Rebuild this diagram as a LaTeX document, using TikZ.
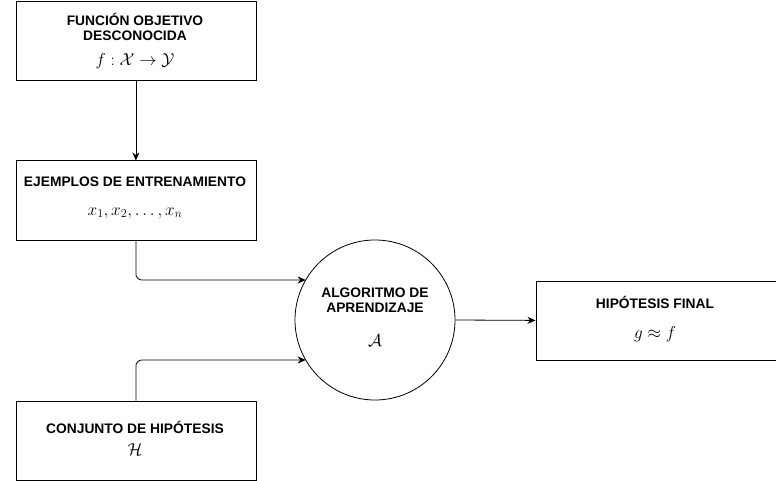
\documentclass[tikz,border=0pt]{standalone}
\usepackage{fontspec}
\setmainfont{Liberation Sans}
\usetikzlibrary{arrows.meta,calc}
\begin{document}
\begin{tikzpicture}[x=1pt,y=-1pt,
  box/.style={draw,line width=0.8pt,minimum width=240pt,minimum height=79pt,anchor=north west,inner sep=0pt},
  title/.style={font=\bfseries\fontsize{13.8}{15.5}\selectfont,align=center,inner sep=0pt},
  mth/.style={font=\fontsize{18}{20}\selectfont,inner sep=0pt},
  conn/.style={line width=0.8pt,-{Stealth[length=8pt,width=7pt]},rounded corners=6pt}]
\useasboundingbox (0,0) rectangle (776,481);
\node[box] (f) at (15.5,1) {};
\node[box] (e) at (15.5,160.5) {};
\node[box] (h) at (15.5,400.5) {};
\node[box] (g) at (535.5,280.5) {};
\node[draw,line width=0.8pt,circle,minimum size=160pt,inner sep=0pt] (a) at (375,320) {};
% texts
\node[title] (ft) at (135,27) {FUNCIÓN OBJETIVO\\DESCONOCIDA};
\node[mth] (fm) at (135,61) {$f:\mathcal{X}\to\mathcal{Y}$};
\node[title] (et) at (135,182) {EJEMPLOS DE ENTRENAMIENTO};
\node[mth] (em) at (135,213) {$x_1,x_2,\ldots,x_n$};
\node[title] (ht) at (135,427) {CONJUNTO DE HIPÓTESIS};
\node[mth] (hm) at (135,450) {$\mathcal{H}$};
\node[title] (at) at (375,300) {ALGORITMO DE\\APRENDIZAJE};
\node[mth] (am) at (375,341) {$\mathcal{A}$};
\node[title] (gt) at (655,302) {HIPÓTESIS FINAL};
\node[mth] (gm) at (655,334) {$g\approx f$};
% connectors
\coordinate (a1) at ($(a)+(-69.3,-40)$);
\coordinate (a2) at ($(a)+(-69.3,40)$);
\draw[conn] (f.south) -- (e.north);
\draw[conn] (e.south) |- (a1);
\draw[conn] (h.north) |- (a2);
\draw[conn] (a.east) -- (g.west);
\end{tikzpicture}
\end{document}
